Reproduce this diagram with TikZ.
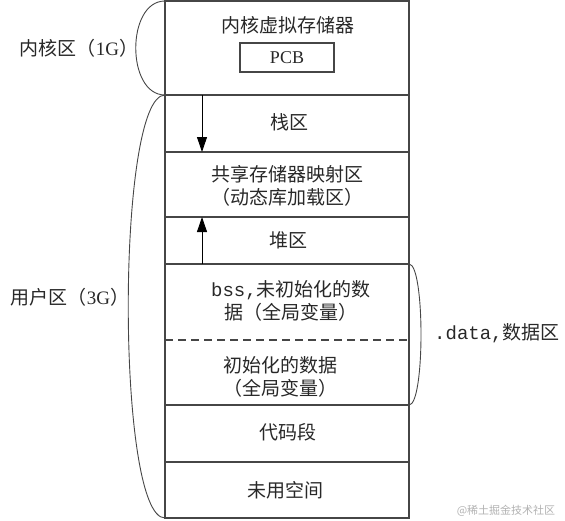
\documentclass[tikz,border=0pt]{standalone}
\usepackage{fontspec}
\setmainfont{Liberation Serif}
\newfontfamily\cjk{Noto Sans CJK SC}
\newfontfamily\monof{Liberation Mono}
\usetikzlibrary{arrows.meta}
\definecolor{edge}{RGB}{70,70,70}
\definecolor{txt}{RGB}{40,40,40}
\begin{document}
\begin{tikzpicture}[x=1pt,y=-1pt,
  row/.style={draw=edge,line width=1.1pt,minimum width=244pt,inner sep=0pt,outer sep=0pt},
  lbl/.style={text=txt,font=\cjk\fontsize{19}{23}\selectfont,align=center,inner sep=0pt},
  arc/.style={draw=edge,line width=0.9pt},
  arr/.style={draw=black,line width=0.9pt,-{Triangle[width=10pt,length=15pt]}}]
\useasboundingbox (0,0) rectangle (565,520);
% rows
\node[row,minimum height=94pt] (kern) at (287,48) {};
\node[row,minimum height=57pt] (stack) at (287,123.5) {};
\node[row,minimum height=65pt] (shm) at (287,184.5) {};
\node[row,minimum height=47pt] (heap) at (287,240.5) {};
\node[row,minimum height=141pt] (dseg) at (287,334.5) {};
\node[row,minimum height=57pt] (code) at (287,433.5) {};
\node[row,minimum height=56pt] (unused) at (287,490) {};
\coordinate (dl) at (165,340);
\coordinate (dr) at (409,340);
\draw[draw=edge,line width=1.1pt,dash pattern=on 8pt off 5pt] (dl) -- (dr);
% texts
\node[lbl] (kt) at (288,25) {内核虚拟存储器};
\node[draw=edge,line width=1.1pt,minimum width=94pt,minimum height=29pt,inner sep=0pt,text=txt,font=\fontsize{18}{20}\selectfont] (pcb) at (287,57.5) {PCB};
\node[lbl] (tstack) at (289,122) {栈区};
\node[lbl] (tshm) at (287,186) {共享存储器映射区\\（动态库加载区）};
\node[lbl] (theap) at (288,240) {堆区};
\node[lbl] (tbss) at (291,301) {{\monof bss,}未初始化的数\\据（全局变量）};
\node[lbl] (tdata) at (280,376.5) {初始化的数据\\（全局变量）};
\node[lbl] (tcode) at (287.5,432) {代码段};
\node[lbl] (tunused) at (285,490) {未用空间};
% arrows
\coordinate (a1s) at (202,95);
\coordinate (a1e) at (202,152);
\coordinate (a2s) at (202,264);
\coordinate (a2e) at (202,217);
\draw[arr] (a1s) -- (a1e);
\draw[arr] (a2s) -- (a2e);
% braces (arcs)
\draw[arc] (kern.north west) .. controls (126,1) and (126,95) .. (kern.south west);
\draw[arc] (kern.south west) .. controls (116,95) and (116,518) .. (unused.south west);
\draw[arc] (dseg.north east) .. controls (425,264) and (425,405) .. (dseg.south east);
% side labels
\node[lbl] (lk) at (79,48) {内核区（{\rmfamily 1G}）};
\node[lbl] (lu) at (70,297) {用户区（{\rmfamily 3G}）};
\node[lbl,anchor=west] (ld) at (434,333) {{\monof .data,}数据区};
\node[text=black!30,font=\cjk\fontsize{11}{13}\selectfont,inner sep=0pt] (wm) at (506,511) {@稀土掘金技术社区};
\end{tikzpicture}
\end{document}
